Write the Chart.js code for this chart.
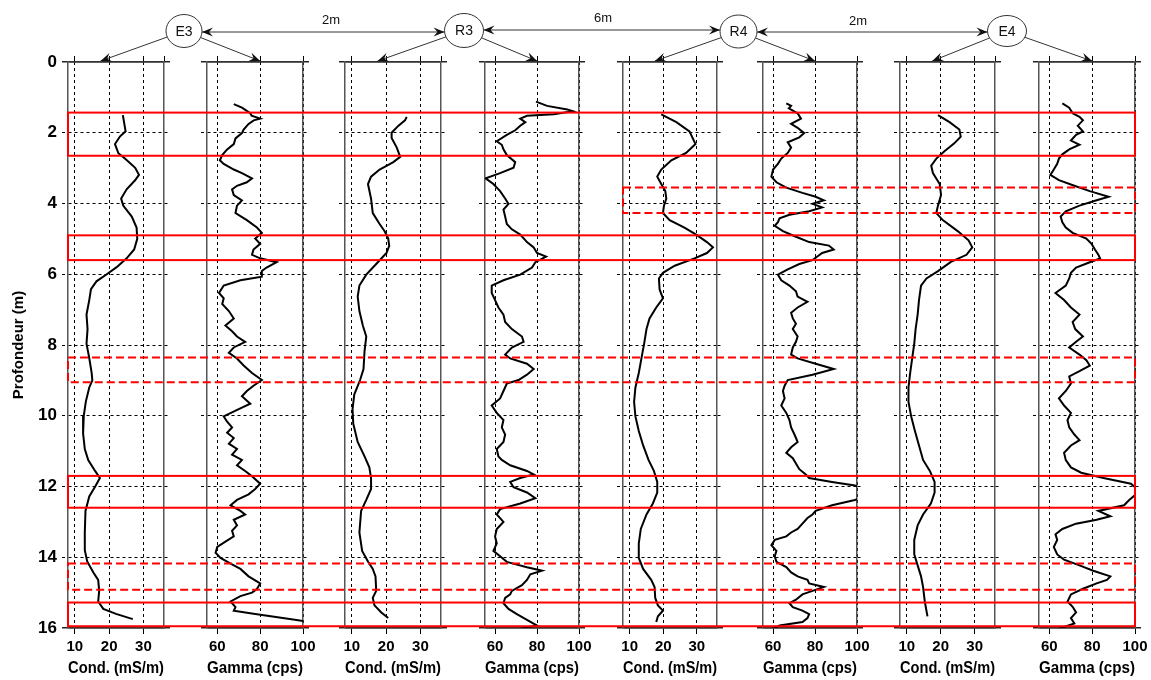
<!DOCTYPE html>
<html>
<head>
<meta charset="utf-8">
<script src="https://cdn.jsdelivr.net/npm/chart.js@4.4.0/dist/chart.umd.min.js"></script>
<style>
  body { margin: 0; background: #fff; }
  #wrap { position: relative; width: 1151px; height: 680px; overflow: hidden; }
  #wrap canvas { position: absolute; top: 0; }
</style>
</head>
<body>
<div id="wrap"></div>
<script>
// ---- DATA ----
var wellNames = ['E3', 'R3', 'R4', 'E4'];
var wellSpacing = ['2m', '6m', '2m'];
var condTicks = [10, 20, 30];
var gammaTicks = [60, 80, 100];
var depthTicks = [0, 2, 4, 6, 8, 10, 12, 14, 16];

// E3
var e3CondDepth = [1.5, 1.96, 2.1, 2.32, 2.58, 2.73, 2.99, 3.19, 3.35, 3.6, 3.86, 4.06, 4.37, 4.68, 5.0, 5.3, 5.55, 5.8, 6.0, 6.2, 6.42, 6.73, 7.14, 7.55, 7.96, 8.37, 8.79, 9.0, 9.2, 9.6, 10.0, 10.5, 10.94, 11.25, 11.56, 11.76, 11.97, 12.28, 12.69, 13.3, 13.8, 14.12, 14.43, 14.64, 14.95, 15.25, 15.46, 15.6, 15.75];
var e3Cond = [24.0, 24.8, 23.2, 21.7, 22.7, 24.6, 27.6, 28.7, 27.5, 25.1, 23.5, 24.1, 26.6, 28.0, 28.2, 27.3, 25.1, 22.2, 19.3, 16.3, 14.7, 14.2, 13.4, 13.7, 13.4, 14.2, 14.9, 15.1, 14.2, 13.2, 12.6, 12.4, 12.9, 13.9, 15.9, 17.3, 16.1, 14.2, 13.1, 12.9, 12.9, 13.6, 15.4, 16.8, 17.1, 16.8, 18.3, 22.0, 26.9];
var e3GammaDepth = [1.19, 1.29, 1.45, 1.52, 1.6, 1.65, 1.75, 1.91, 2.01, 2.16, 2.32, 2.47, 2.63, 2.78, 2.88, 3.04, 3.14, 3.29, 3.4, 3.5, 3.6, 3.76, 3.91, 4.06, 4.27, 4.47, 4.68, 4.83, 4.99, 5.14, 5.3, 5.45, 5.55, 5.66, 5.81, 5.91, 6.07, 6.17, 6.32, 6.53, 6.68, 6.84, 7.04, 7.25, 7.45, 7.61, 7.76, 7.91, 8.07, 8.22, 8.38, 8.58, 8.79, 8.99, 9.15, 9.3, 9.45, 9.66, 9.81, 10.02, 10.17, 10.33, 10.48, 10.63, 10.79, 10.94, 11.1, 11.25, 11.4, 11.56, 11.71, 11.92, 12.07, 12.22, 12.38, 12.53, 12.69, 12.79, 12.94, 13.1, 13.25, 13.41, 13.56, 13.71, 13.87, 14.02, 14.18, 14.33, 14.54, 14.74, 14.9, 15.0, 15.1, 15.25, 15.41, 15.51, 15.6, 15.76, 15.8];
var e3Gamma = [67.7, 71.5, 75.4, 76.0, 80.0, 77.0, 74.6, 72.3, 71.5, 68.5, 67.7, 64.6, 62.3, 61.2, 63.0, 67.7, 71.5, 76.2, 73.8, 69.2, 66.9, 67.7, 71.5, 69.2, 68.5, 73.8, 78.5, 80.8, 77.7, 80.0, 76.9, 76.2, 80.0, 87.7, 83.0, 80.8, 80.8, 70.8, 63.0, 60.8, 63.0, 62.3, 65.4, 67.7, 63.8, 66.9, 69.2, 73.0, 67.7, 65.4, 69.2, 72.3, 76.2, 80.8, 76.9, 73.8, 71.5, 75.4, 70.0, 63.0, 64.6, 66.9, 64.6, 67.7, 65.4, 69.2, 66.9, 71.5, 69.2, 73.0, 76.2, 80.0, 77.7, 74.6, 69.2, 66.2, 70.8, 73.0, 67.7, 69.2, 66.9, 67.7, 63.8, 60.0, 59.2, 61.5, 66.2, 70.8, 74.6, 80.0, 78.5, 76.2, 70.8, 66.2, 68.5, 67.7, 76.9, 95.4, 100.0];

// R3
var r3CondDepth = [1.55, 1.65, 1.8, 2.0, 2.15, 2.42, 2.68, 2.83, 3.04, 3.24, 3.45, 3.86, 4.27, 4.58, 4.79, 4.99, 5.2, 5.4, 5.71, 6.01, 6.32, 6.63, 7.04, 7.45, 7.76, 8.17, 8.68, 8.99, 9.4, 9.81, 10.22, 10.74, 11.15, 11.46, 11.76, 12.07, 12.38, 12.69, 13.3, 13.82, 14.12, 14.33, 14.54, 14.95, 15.15, 15.36, 15.56, 15.72];
var r3Cond = [26.0, 25.5, 23.6, 21.6, 21.6, 23.1, 24.1, 22.1, 18.1, 15.6, 14.7, 15.6, 16.1, 18.1, 19.6, 20.6, 20.9, 20.1, 17.1, 14.2, 12.2, 11.7, 12.2, 13.2, 14.2, 13.7, 13.4, 12.4, 10.7, 10.2, 10.4, 11.7, 13.7, 15.1, 15.6, 15.6, 14.2, 12.7, 12.2, 13.0, 14.7, 16.1, 16.9, 17.1, 16.1, 16.6, 18.6, 20.6];
var r3GammaDepth = [1.12, 1.24, 1.34, 1.39, 1.48, 1.52, 1.6, 1.7, 1.8, 1.93, 2.06, 2.24, 2.34, 2.47, 2.63, 2.83, 2.99, 3.14, 3.29, 3.45, 3.65, 3.86, 4.01, 4.17, 4.37, 4.58, 4.73, 4.88, 5.09, 5.24, 5.4, 5.5, 5.66, 5.81, 6.01, 6.17, 6.32, 6.53, 6.73, 6.94, 7.14, 7.35, 7.55, 7.76, 7.91, 8.07, 8.27, 8.38, 8.53, 8.68, 8.84, 8.99, 9.09, 9.3, 9.51, 9.71, 9.92, 10.12, 10.33, 10.53, 10.74, 10.94, 11.15, 11.25, 11.4, 11.56, 11.66, 11.76, 11.87, 12.02, 12.17, 12.33, 12.48, 12.64, 12.79, 13.0, 13.2, 13.41, 13.61, 13.82, 13.97, 14.13, 14.28, 14.38, 14.48, 14.64, 14.79, 14.95, 15.05, 15.15, 15.3, 15.46, 15.61, 15.77, 15.93, 16.02];
var r3Gamma = [79.5, 84.8, 94.4, 97.1, 88.0, 75.2, 72.0, 74.4, 72.0, 69.6, 65.6, 60.8, 63.2, 64.0, 65.6, 69.6, 68.8, 62.4, 55.5, 59.2, 62.4, 64.8, 66.4, 64.0, 64.8, 65.6, 68.0, 72.0, 75.2, 78.4, 80.0, 84.3, 79.2, 77.6, 72.0, 64.0, 58.4, 58.4, 60.0, 61.6, 64.0, 64.8, 68.0, 72.8, 73.6, 68.0, 64.8, 67.2, 75.2, 78.4, 75.2, 71.2, 65.6, 64.0, 62.4, 58.4, 60.8, 64.0, 63.2, 64.8, 64.0, 60.8, 61.6, 63.2, 67.2, 75.2, 78.4, 72.0, 67.2, 68.8, 75.2, 79.2, 72.0, 62.4, 60.8, 64.0, 60.8, 60.0, 60.8, 59.2, 62.4, 65.6, 75.2, 82.4, 76.8, 75.2, 72.8, 68.0, 67.2, 64.8, 64.0, 66.4, 70.4, 75.2, 80.0, 72.0];

// R4
var r4CondDepth = [1.48, 1.7, 1.96, 2.32, 2.57, 2.78, 3.04, 3.24, 3.45, 3.65, 3.86, 4.06, 4.27, 4.47, 4.68, 4.88, 5.09, 5.24, 5.4, 5.55, 5.76, 5.96, 6.12, 6.43, 6.68, 6.94, 7.25, 7.55, 7.96, 8.37, 8.79, 9.2, 9.61, 10.02, 10.43, 10.84, 11.25, 11.56, 11.87, 12.17, 12.48, 12.79, 13.2, 13.61, 14.02, 14.33, 14.64, 14.84, 15.15, 15.36, 15.51, 15.67, 15.83];
var r4Cond = [19.4, 23.9, 27.8, 29.6, 26.8, 22.4, 19.4, 18.2, 19.4, 20.6, 20.9, 20.2, 19.9, 21.9, 26.3, 29.8, 33.0, 34.8, 33.0, 29.3, 23.4, 19.9, 18.7, 18.9, 19.9, 17.9, 15.9, 15.0, 14.3, 13.5, 12.7, 11.7, 11.3, 11.7, 12.7, 14.0, 15.6, 17.2, 18.2, 18.2, 16.9, 15.0, 13.3, 12.7, 12.7, 14.0, 16.4, 17.4, 17.6, 18.4, 19.9, 18.4, 17.9];
var r4GammaDepth = [1.17, 1.24, 1.31, 1.45, 1.6, 1.75, 1.86, 2.01, 2.13, 2.27, 2.42, 2.57, 2.73, 2.88, 3.04, 3.24, 3.4, 3.55, 3.7, 3.81, 3.91, 4.01, 4.11, 4.22, 4.32, 4.42, 4.53, 4.63, 4.78, 4.94, 5.09, 5.19, 5.3, 5.4, 5.5, 5.6, 5.71, 5.86, 6.01, 6.17, 6.32, 6.48, 6.63, 6.78, 6.94, 7.09, 7.25, 7.4, 7.55, 7.76, 7.91, 8.07, 8.27, 8.38, 8.53, 8.68, 8.84, 8.99, 9.15, 9.3, 9.51, 9.71, 9.92, 10.12, 10.33, 10.53, 10.74, 10.89, 11.05, 11.2, 11.35, 11.51, 11.66, 11.76, 11.87, 11.97, 12.12, 12.28, 12.38, 12.53, 12.69, 12.79, 12.89, 13.05, 13.2, 13.3, 13.41, 13.51, 13.66, 13.82, 13.97, 14.13, 14.28, 14.43, 14.54, 14.64, 14.74, 14.84, 14.95, 15.05, 15.2, 15.3, 15.41, 15.51, 15.61, 15.72, 15.83, 15.93, 16.02];
var r4Gamma = [66.3, 68.6, 67.5, 71.7, 73.3, 68.6, 71.7, 74.8, 72.5, 67.0, 68.6, 67.0, 63.9, 62.3, 60.0, 59.2, 61.6, 66.3, 74.0, 80.3, 84.2, 78.8, 83.4, 77.2, 67.8, 63.1, 62.3, 60.8, 64.7, 70.9, 77.2, 86.6, 88.9, 83.4, 81.1, 78.8, 72.5, 67.0, 62.3, 63.9, 67.8, 70.9, 71.7, 76.4, 71.7, 68.6, 69.4, 70.9, 69.4, 71.7, 70.9, 69.4, 68.6, 71.7, 80.3, 88.9, 78.8, 67.0, 65.5, 64.7, 65.5, 63.9, 66.3, 67.8, 68.6, 70.2, 71.7, 68.6, 66.3, 69.4, 70.9, 72.5, 75.6, 77.2, 88.1, 99.0, 104.0, 104.0, 99.0, 88.1, 80.3, 78.8, 76.4, 74.0, 71.7, 68.6, 66.3, 60.8, 59.2, 61.6, 60.8, 61.6, 66.3, 68.6, 71.7, 76.4, 77.2, 84.2, 78.8, 74.0, 70.9, 67.8, 69.4, 74.0, 77.2, 76.4, 74.0, 63.1, 60.0];

// E4
var e4CondDepth = [1.5, 1.7, 1.91, 2.11, 2.3, 2.52, 2.73, 2.93, 3.14, 3.45, 3.76, 4.06, 4.27, 4.47, 4.78, 5.04, 5.24, 5.45, 5.65, 5.91, 6.12, 6.32, 6.73, 7.14, 7.55, 7.96, 8.37, 8.79, 9.2, 9.61, 10.02, 10.43, 10.84, 11.25, 11.56, 11.87, 12.17, 12.48, 12.79, 13.1, 13.51, 13.92, 14.23, 14.54, 14.84, 15.25, 15.67];
var e4Cond = [19.2, 22.6, 25.5, 25.9, 24.0, 21.1, 18.7, 17.2, 17.7, 19.7, 20.1, 19.2, 18.7, 20.6, 25.0, 28.2, 29.3, 27.6, 23.0, 19.2, 15.8, 14.2, 13.6, 13.2, 12.6, 12.2, 11.6, 11.0, 10.5, 10.5, 11.3, 12.4, 13.6, 14.8, 16.8, 18.2, 18.2, 17.1, 14.8, 13.2, 12.2, 12.2, 13.2, 14.2, 14.8, 15.3, 16.1];
var e4GammaDepth = [1.17, 1.29, 1.45, 1.55, 1.65, 1.8, 1.96, 2.06, 2.22, 2.34, 2.47, 2.61, 2.73, 2.88, 3.04, 3.19, 3.34, 3.5, 3.65, 3.81, 3.91, 4.06, 4.22, 4.37, 4.53, 4.68, 4.83, 4.99, 5.14, 5.3, 5.45, 5.55, 5.66, 5.81, 5.96, 6.12, 6.32, 6.53, 6.73, 6.94, 7.14, 7.35, 7.55, 7.76, 7.91, 8.07, 8.27, 8.43, 8.58, 8.74, 8.89, 9.09, 9.3, 9.51, 9.71, 9.92, 10.12, 10.33, 10.53, 10.69, 10.84, 11.05, 11.25, 11.46, 11.61, 11.76, 11.92, 12.07, 12.22, 12.38, 12.53, 12.69, 12.84, 12.94, 13.05, 13.2, 13.35, 13.51, 13.71, 13.92, 14.07, 14.23, 14.38, 14.54, 14.64, 14.74, 14.89, 15.05, 15.25, 15.4, 15.56, 15.72, 15.87, 16.02];
var e4Gamma = [66.1, 69.3, 70.9, 74.1, 75.7, 73.3, 75.7, 72.5, 70.1, 74.1, 69.3, 66.1, 64.5, 63.7, 62.1, 60.5, 64.5, 71.7, 78.9, 87.7, 82.1, 74.1, 67.7, 65.3, 66.1, 67.7, 70.9, 77.3, 79.7, 81.3, 82.9, 83.7, 78.9, 72.5, 70.1, 69.3, 67.7, 62.9, 66.9, 70.1, 74.1, 70.9, 72.1, 75.7, 72.5, 69.3, 74.1, 77.3, 78.9, 74.1, 69.3, 70.1, 67.7, 64.5, 66.9, 70.1, 68.5, 69.3, 71.7, 74.1, 70.1, 66.9, 67.7, 70.1, 74.9, 85.3, 98.1, 101.0, 100.5, 97.3, 94.9, 82.9, 88.5, 82.1, 72.5, 66.1, 62.9, 63.7, 62.1, 63.7, 66.9, 74.1, 80.5, 88.5, 86.9, 82.1, 75.7, 70.1, 68.5, 70.9, 72.5, 70.1, 71.7, 64.5];

// highlighted depth intervals (red boxes)
var zoneTop = [1.43, 3.55, 4.9, 8.35, 11.7, 14.18, 15.28];
var zoneBottom = [2.65, 4.27, 5.6, 9.05, 12.6, 14.92, 15.95];
var zoneDashed = [false, true, false, true, false, true, false];
var zoneFirstPanel = [0, 4, 0, 0, 0, 0, 0];

var logs = [
  { kind: 'cond', depth: e3CondDepth, value: e3Cond },
  { kind: 'gamma', depth: e3GammaDepth, value: e3Gamma },
  { kind: 'cond', depth: r3CondDepth, value: r3Cond },
  { kind: 'gamma', depth: r3GammaDepth, value: r3Gamma },
  { kind: 'cond', depth: r4CondDepth, value: r4Cond },
  { kind: 'gamma', depth: r4GammaDepth, value: r4Gamma },
  { kind: 'cond', depth: e4CondDepth, value: e4Cond },
  { kind: 'gamma', depth: e4GammaDepth, value: e4Gamma }
];

// ---- LAYOUT ----
var panelLeft = [68, 207, 345, 485, 623, 763, 900, 1039];
var panelWidth = [96, 96, 96, 94, 94, 94, 95, 96];
var FONT = "'Liberation Sans', Arial, sans-serif";
Chart.defaults.font.family = FONT;
Chart.defaults.color = '#000';

var wrap = document.getElementById('wrap');
var charts = [];
var offsets = [];

function tickList(vals) {
  return function (s) { s.ticks = vals.map(function (v) { return { value: v }; }); };
}
function isEdge(ctx) {
  return ctx.tick && (ctx.tick.value === 0 || ctx.tick.value === 16);
}
function edgeDash(ctx) { return isEdge(ctx) ? [] : [3, 3]; }
function edgeColor(ctx) { return isEdge(ctx) ? '#222' : '#000'; }
function edgeWidth(ctx) { return isEdge(ctx) ? 1.5 : 1; }

logs.forEach(function (log, i) {
  var first = i === 0;
  var isCond = log.kind === 'cond';
  var leftW = first ? 68 : 20;
  var cv = document.createElement('canvas');
  cv.width = leftW + panelWidth[i] + 22;
  cv.height = 680;
  cv.style.left = (panelLeft[i] - leftW) + 'px';
  wrap.appendChild(cv);
  offsets.push(panelLeft[i] - leftW);

  var xMin = isCond ? 8 : 55.2;
  var xMax = isCond ? 36 : 100;
  var xt = isCond ? condTicks : gammaTicks;

  var chart = new Chart(cv.getContext('2d'), {
    type: 'line',
    data: {
      datasets: [{
        data: log.depth.map(function (d, k) { return { x: log.value[k], y: d }; }),
        borderColor: '#000',
        borderWidth: 2,
        pointRadius: 0,
        tension: 0,
        xAxisID: 'x',
        yAxisID: 'y'
      }]
    },
    options: {
      responsive: false,
      animation: false,
      indexAxis: 'y',
      layout: { padding: { top: 56, bottom: 0, left: first ? 0 : 14, right: 16 } },
      plugins: { legend: { display: false }, tooltip: { enabled: false } },
      scales: {
        x: {
          type: 'linear', position: 'bottom', min: xMin, max: xMax,
          afterBuildTicks: tickList(xt),
          afterFit: function (s) { s.height = 52; s.paddingLeft = 0; s.paddingRight = 0; },
          grid: { color: '#000', lineWidth: 1, tickLength: 6 },
          border: { color: '#333', width: 1.5, dash: [3, 3] },
          ticks: { color: '#000', font: { size: 15, weight: 'bold' }, padding: 4, maxRotation: 0, autoSkip: false },
          title: {
            display: true, text: isCond ? 'Cond. (mS/m)' : 'Gamma (cps)', color: '#000',
            font: { size: 16, weight: 'bold' }, padding: { top: 0, bottom: 2 }
          }
        },
        xTop: {
          type: 'linear', position: 'top', min: xMin, max: xMax,
          afterBuildTicks: tickList(isCond ? condTicks.concat([xMax]) : gammaTicks),
          afterFit: function (s) { s.height = 6; s.paddingLeft = 0; s.paddingRight = 0; },
          grid: { drawOnChartArea: false, color: '#000', tickLength: 6 },
          border: { color: '#333', width: 1.5 },
          ticks: { display: false }
        },
        y: {
          type: 'linear', position: 'left', reverse: true, min: 0, max: 16,
          afterBuildTicks: tickList(depthTicks),
          afterFit: function (s) { s.width = first ? 68 : 6; },
          grid: { color: edgeColor, lineWidth: edgeWidth, tickLength: 6, tickBorderDash: edgeDash },
          border: { color: '#555', width: 1.5, dash: edgeDash },
          ticks: { display: first, color: '#000', font: { size: 17, weight: 'bold' }, padding: 5 },
          title: {
            display: first, text: 'Profondeur (m)', color: '#000',
            font: { size: 15, weight: 'bold' }, padding: { top: 10, bottom: 0 }
          }
        },
        y2: {
          type: 'linear', position: 'right', reverse: true, min: 0, max: 16,
          afterBuildTicks: tickList(depthTicks),
          afterFit: function (s) { s.width = 6; },
          grid: { drawOnChartArea: false, color: edgeColor, lineWidth: edgeWidth, tickLength: 6, tickBorderDash: edgeDash },
          border: { color: '#555', width: 1.5 },
          ticks: { display: false }
        }
      }
    }
  });
  charts.push(chart);
});

// ---- OVERLAY: red zones + well annotations ----
var ov = document.createElement('canvas');
ov.width = 1151; ov.height = 680;
ov.style.left = '0px';
ov.style.pointerEvents = 'none';
wrap.appendChild(ov);
var g = ov.getContext('2d');

var yScale = charts[0].scales.y;
var rightEdge = offsets[7] + charts[7].chartArea.right;
g.strokeStyle = '#ff0000';
g.lineWidth = 2;
zoneTop.forEach(function (t, k) {
  var p = zoneFirstPanel[k];
  var x1 = offsets[p] + charts[p].chartArea.left;
  var y1 = yScale.getPixelForValue(t);
  var y2 = yScale.getPixelForValue(zoneBottom[k]);
  g.setLineDash(zoneDashed[k] ? [8, 4] : []);
  g.strokeRect(x1, y1, rightEdge - x1, y2 - y1);
});
g.setLineDash([]);

function arrowHead(x, y, ang) {
  g.save();
  g.translate(x, y);
  g.rotate(ang);
  g.beginPath();
  g.moveTo(0, 0);
  g.lineTo(-11, -4.5);
  g.lineTo(-7, 0);
  g.lineTo(-11, 4.5);
  g.closePath();
  g.fill();
  g.restore();
}
function arrow(x1, y1, x2, y2, both) {
  g.beginPath();
  g.moveTo(x1, y1);
  g.lineTo(x2, y2);
  g.stroke();
  arrowHead(x2, y2, Math.atan2(y2 - y1, x2 - x1));
  if (both) arrowHead(x1, y1, Math.atan2(y1 - y2, x1 - x2));
}

var wellX = [184, 464, 738.5, 1007];
var wellY = [31, 30.5, 31.5, 31];
var wellRx = [18, 19.5, 18.5, 19.5];
var wellRy = [16.5, 17, 16.5, 15.5];

g.strokeStyle = '#333';
g.fillStyle = '#111';
g.lineWidth = 1;
wellNames.forEach(function (name, k) {
  var cx = wellX[k], cy = wellY[k], rx = wellRx[k], ry = wellRy[k];
  g.beginPath();
  g.ellipse(cx, cy, rx, ry, 0, 0, Math.PI * 2);
  g.stroke();
  g.font = '14px ' + FONT;
  g.textAlign = 'center';
  g.textBaseline = 'middle';
  g.fillText(name, cx, cy + 1);
  // arrows down to the two logs of the well
  var targets = [
    { c: charts[2 * k], i: 2 * k, v: 17.5 },
    { c: charts[2 * k + 1], i: 2 * k + 1, v: 80 }
  ];
  targets.forEach(function (t) {
    var tx = offsets[t.i] + t.c.scales.x.getPixelForValue(t.v);
    var ty = t.c.chartArea.top - 1;
    var a = Math.atan2((ty - cy) / ry, (tx - cx) / rx);
    arrow(cx + rx * Math.cos(a), cy + ry * Math.sin(a), tx, ty, false);
  });
});

// spacing arrows between wells
var spaceY = [32, 30, 32];
var spaceLabelX = [331, 603, 858];
var spaceLabelY = [20, 18, 21];
wellSpacing.forEach(function (txt, k) {
  var xa = wellX[k] + wellRx[k];
  var xb = wellX[k + 1] - wellRx[k + 1];
  arrow(xa, spaceY[k], xb, spaceY[k], true);
  g.font = '13px ' + FONT;
  g.textAlign = 'center';
  g.textBaseline = 'middle';
  g.fillText(txt, spaceLabelX[k], spaceLabelY[k]);
});
</script>
</body>
</html>
